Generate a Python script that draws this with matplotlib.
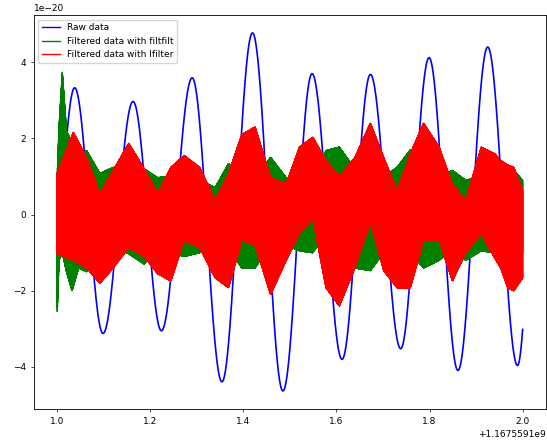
import numpy as np
import matplotlib
matplotlib.use("Agg")
import matplotlib.pyplot as plt

# time offset of the record (s)
T0 = 1.1675591e9

# raw data: turning points (s after T0, units of 1e-20)
raw_t = [0.975, 1.0375, 1.0985, 1.163, 1.224, 1.290, 1.354, 1.4196, 1.485,
         1.5476, 1.612, 1.673, 1.738, 1.799, 1.861, 1.925, 1.989, 2.04]
raw_v = [-4.2, 3.33, -3.12, 2.97, -3.05, 3.59, -4.39, 4.77, -4.63,
         3.70, -3.80, 3.68, -3.52, 4.12, -4.09, 4.40, -3.96, 4.6]

# filtfilt output: upper / lower edge of the noisy band
ff_t = [1.000, 1.004, 1.011, 1.020, 1.032, 1.046, 1.0632, 1.0918, 1.1204, 1.1537,
        1.1871, 1.2156, 1.2442, 1.2728, 1.3061, 1.3395, 1.3681, 1.3966, 1.4252, 1.4586,
        1.4919, 1.5205, 1.5491, 1.5776, 1.6062, 1.6396, 1.6729, 1.7015, 1.7301, 1.7587,
        1.7872, 1.8206, 1.8492, 1.8777, 1.9111, 1.9397, 1.962, 1.981, 2.0]
ff_top = [1.0, 2.3, 3.74, 2.2, 1.87, 1.5, 1.68, 1.08, 1.24, 1.0,
          1.2, 0.97, 1.0, 1.0, 0.9, 0.71, 1.34, 1.0, 1.0, 1.5,
          0.97, 0.9, 1.0, 1.68, 1.77, 1.2, 1.0, 1.0, 1.24, 1.7,
          1.2, 1.0, 1.16, 0.9, 1.0, 1.2, 1.32, 1.16, 0.9]
ff_bot = [-2.6, -1.2, -1.0, -1.5, -2.0, -1.4, -1.5, -0.5, -0.8, -1.03,
          -1.3, -0.9, -1.0, -1.1, -1.0, -0.8, -0.9, -1.4, -1.4, -0.8,
          -0.8, -0.95, -1.0, -0.5, -0.8, -1.4, -1.47, -1.0, -0.8, -1.0,
          -1.4, -1.2, -0.9, -1.2, -0.95, -1.0, -1.0, -1.0, -1.0]

# lfilter output: upper / lower edge of the noisy band
lf_t = [1.0, 1.0346, 1.0632, 1.0918, 1.1204, 1.1537, 1.1871, 1.2156, 1.2442, 1.2728,
        1.3061, 1.3395, 1.3681, 1.3966, 1.4252, 1.4586, 1.4919, 1.5205, 1.5491, 1.5776,
        1.6062, 1.6396, 1.6729, 1.7015, 1.7301, 1.7587, 1.7872, 1.8206, 1.8492, 1.8777,
        1.9111, 1.9397, 1.953, 1.968, 1.981, 2.0]
lf_top = [1.08, 2.16, 1.5, 0.55, 1.16, 1.87, 1.2, 0.55, 1.24, 1.55,
          1.24, 0.37, 1.08, 2.1, 2.3, 0.97, 0.8, 1.77, 2.03, 1.42,
          1.0, 1.5, 2.4, 1.5, 0.63, 1.6, 2.4, 1.77, 0.8, 0.37,
          1.77, 1.6, 1.42, 1.3, 1.24, 0.63]
lf_bot = [-1.03, -1.2, -1.4, -1.8, -1.4, -0.87, -1.1, -1.55, -1.74, -0.68,
          -0.87, -1.66, -1.92, -0.68, -0.8, -2.1, -1.2, -0.5, -0.1, -1.92,
          -2.4, -1.4, -0.2, -1.47, -1.92, -1.92, -0.68, -0.68, -1.74, -1.0,
          -0.5, -1.13, -1.4, -1.92, -2.0, -1.66]

labels = ["Raw data", "Filtered data with filtfilt", "Filtered data with lfilter"]


def through_turns(tk, vk, t):
    # smooth half-cosine between successive turning points
    tk = np.asarray(tk); vk = np.asarray(vk)
    i = np.clip(np.searchsorted(tk, t) - 1, 0, len(tk) - 2)
    f = (t - tk[i]) / (tk[i + 1] - tk[i])
    w = (1 - np.cos(np.pi * f)) / 2
    return vk[i] + (vk[i + 1] - vk[i]) * w


def band_trace(tk, top, bot, t):
    # trace swinging between the two edges of the band
    up = np.interp(t, tk, top)
    lo = np.interp(t, tk, bot)
    return np.where(np.arange(len(t)) % 2 == 0, up, lo)


plt.rcParams['font.size'] = 6.5
plt.rcParams['axes.linewidth'] = 0.6
plt.rcParams['xtick.major.size'] = 2.3
plt.rcParams['ytick.major.size'] = 2.3
plt.rcParams['xtick.major.width'] = 0.5
plt.rcParams['ytick.major.width'] = 0.5

fig = plt.figure(figsize=(5.47, 4.42), dpi=100)
ax = fig.add_axes([0.062, 0.075, 0.936, 0.891])

t_raw = np.linspace(1.0, 2.0, 4000)
t_band = np.linspace(1.0, 2.0, 6000)

ax.plot(T0 + t_raw, through_turns(raw_t, raw_v, t_raw) * 1e-20,
        color='blue', lw=1.2, label=labels[0])
ax.plot(T0 + t_band, band_trace(ff_t, ff_top, ff_bot, t_band) * 1e-20,
        color='green', lw=1.0, label=labels[1])
ax.plot(T0 + t_band, band_trace(lf_t, lf_top, lf_bot, t_band) * 1e-20,
        color='red', lw=1.0, label=labels[2])

leg = ax.legend(loc='upper left')
for h in leg.get_lines():
    h.set_linewidth(1.0)

fig.savefig("out.png", dpi=100)
